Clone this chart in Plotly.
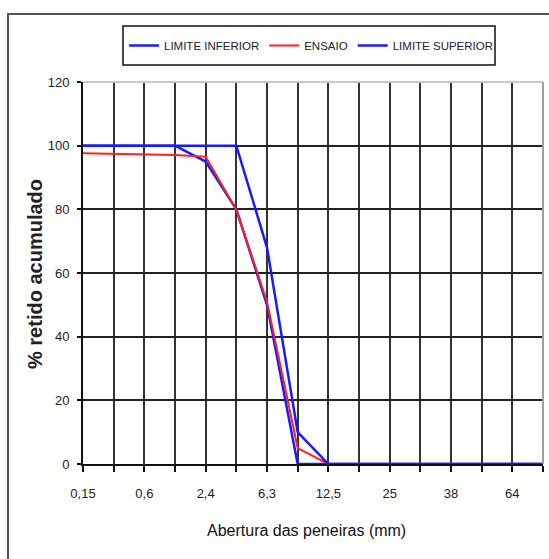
import plotly.graph_objects as go

# Sieve openings (mm) – category axis, labels shown on every other tick
peneiras = ["0,15", "0,3", "0,6", "1,2", "2,4", "4,8", "6,3", "9,5",
            "12,5", "19", "25", "32", "38", "50", "64", "76"]
rotulos = [p if i % 2 == 0 else "" for i, p in enumerate(peneiras)]

limite_inferior = [100, 100, 100, 100, 95, 80, 50, 0, 0, 0, 0, 0, 0, 0, 0, 0]
ensaio = [97.6, 97.5, 97.3, 97.1, 96.5, 79.8, 51, 5, 0, 0, 0, 0, 0, 0, 0, 0]
limite_superior = [100, 100, 100, 100, 100, 100, 68, 10, 0, 0, 0, 0, 0, 0, 0, 0]

FONT = "Liberation Sans, Arial, sans-serif"
BLUE = "#1a1aff"
RED = "#ff2020"

fig = go.Figure()
fig.add_trace(go.Scatter(x=peneiras, y=limite_inferior, mode="lines",
                         name="LIMITE INFERIOR", line=dict(color=BLUE, width=2.5)))
fig.add_trace(go.Scatter(x=peneiras, y=ensaio, mode="lines",
                         name="ENSAIO", line=dict(color=RED, width=2)))
fig.add_trace(go.Scatter(x=peneiras, y=limite_superior, mode="lines",
                         name="LIMITE SUPERIOR", line=dict(color=BLUE, width=2.5)))

L, R, T, B = 83, 6, 82, 95
W, H = 549, 559
pw = W - L - R
ph = H - T - B

def px(xp):
    return (xp - L) / pw

def py(yp):
    return (H - B - yp) / ph

fig.update_layout(
    width=W, height=H,
    margin=dict(l=L, r=R, t=T, b=B),
    paper_bgcolor="white", plot_bgcolor="white",
    font=dict(family=FONT, size=13, color="#222"),
    showlegend=True,
    legend=dict(orientation="h", x=px(124), y=py(45.5), xanchor="left", yanchor="middle",
                borderwidth=0, bgcolor="rgba(0,0,0,0)",
                font=dict(family=FONT, size=11.5, color="#222"),
                itemwidth=30, tracegroupgap=0),
    xaxis=dict(type="category", categoryorder="array", categoryarray=peneiras,
               range=[0, len(peneiras) - 1],
               tickmode="array", tickvals=peneiras, ticktext=rotulos,
               showgrid=True, gridcolor="#333", gridwidth=2,
               ticks="outside", ticklen=6, tickwidth=1.5, tickcolor="#111",
               ticklabelstandoff=10,
               showline=True, linecolor="#111", linewidth=2,
               tickfont=dict(family=FONT, size=13, color="#222"),
               zeroline=False),
    yaxis=dict(range=[0, 120], tickvals=[0, 20, 40, 60, 80, 100, 120],
               showgrid=True, gridcolor="#222", gridwidth=2,
               ticks="outside", ticklen=4, tickwidth=1.5, tickcolor="#111",
               ticklabelstandoff=5,
               showline=True, linecolor="#111", linewidth=2,
               zeroline=True, zerolinecolor="#111", zerolinewidth=2,
               tickfont=dict(family=FONT, size=13, color="#222")),
    shapes=[
        # light top and right frame of plot area
        dict(type="line", xref="paper", yref="paper", x0=0, x1=1, y0=1, y1=1,
             line=dict(color="#c8c8c8", width=2), layer="above"),
        dict(type="line", xref="paper", yref="paper", x0=1, x1=1, y0=0, y1=1,
             line=dict(color="#a0a0a0", width=2), layer="above"),
        # outer chart-area frame
        dict(type="rect", xref="paper", yref="paper",
             x0=px(8), x1=px(W + 20), y0=py(H + 20), y1=py(14),
             line=dict(color="#555", width=2), layer="below"),
        # legend frame
        dict(type="rect", xref="paper", yref="paper",
             x0=px(123), x1=px(495), y0=py(65), y1=py(26),
             line=dict(color="#111", width=1.5), fillcolor="white", layer="below"),
    ],
    annotations=[
        dict(text="<b>% retido acumulado</b>", xref="paper", yref="paper",
             x=px(35), y=py(274), textangle=-90, showarrow=False,
             xanchor="center", yanchor="middle",
             font=dict(family=FONT, size=20, color="#222")),
        dict(text="Abertura das peneiras (mm)", xref="paper", yref="paper",
             x=px(306), y=py(530), showarrow=False,
             xanchor="center", yanchor="middle",
             font=dict(family=FONT, size=16, color="#111")),
    ],
)

fig.write_html("out.html")
